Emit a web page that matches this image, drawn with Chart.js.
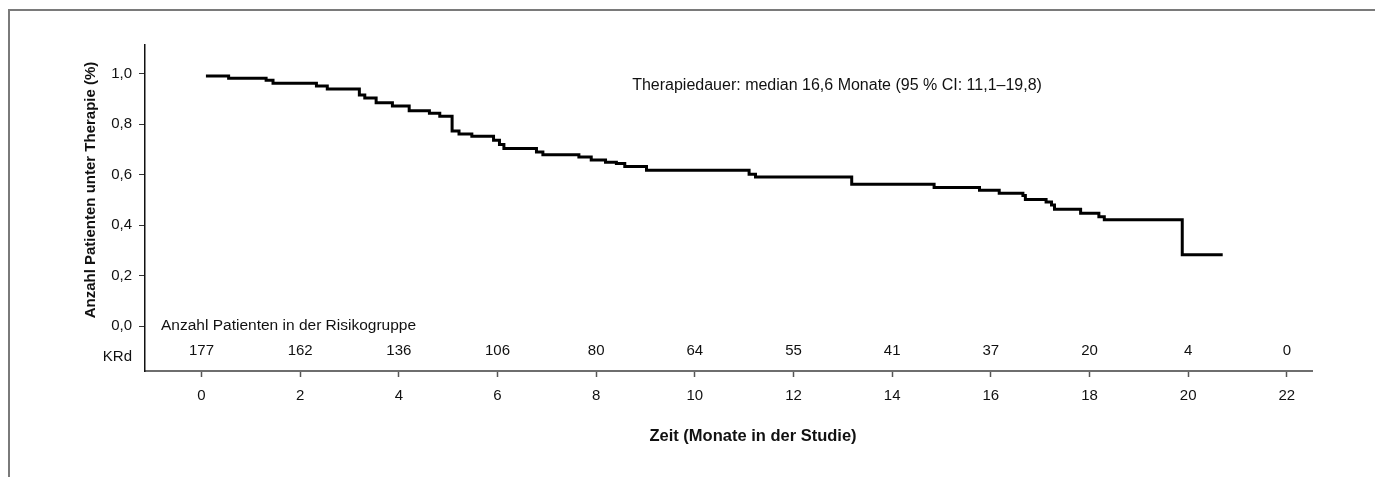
<!DOCTYPE html>
<html lang="de">
<head>
  <meta charset="UTF-8" />
  <title>Therapiedauer KRd</title>
  <script src="https://cdn.jsdelivr.net/npm/chart.js"></script>
  <style>
    html, body {
      margin: 0;
      padding: 0;
      background: #fff;
    }
    body {
      width: 1375px;
      height: 477px;
      position: relative;
      overflow: hidden;
    }
    .frame {
      position: absolute;
      left: 8px;
      top: 9px;
      right: 0;
      bottom: 0;
      border-top: 2px solid #7a7a7a;
      border-left: 2px solid #7a7a7a;
    }
    #kmChart {
      position: absolute;
      left: 0;
      top: 0;
    }
  </style>
</head>
<body>
  <div class="frame"></div>
  <canvas id="kmChart" width="1375" height="477"></canvas>

  <script>
    // Kaplan-Meier Stufen: Zeitpunkt (Monate) und Anteil unter Therapie ab dort
    const months = [0.09, 0.55, 1.31, 1.45, 2.33, 2.55, 3.20, 3.31, 3.54, 3.87,
                    4.21, 4.62, 4.83, 5.08, 5.22, 5.48, 5.92, 6.04, 6.13, 6.79,
                    6.92, 7.65, 7.90, 8.19, 8.41, 8.58, 9.02, 11.10, 11.23, 13.18,
                    14.85, 15.77, 16.17, 16.65, 16.70, 17.12, 17.23, 17.29, 17.82, 18.19,
                    18.30, 19.88, 20.70];
    const onTherapy = [0.990, 0.981, 0.973, 0.962, 0.951, 0.939, 0.915, 0.903, 0.884, 0.871,
                       0.853, 0.843, 0.831, 0.772, 0.761, 0.752, 0.736, 0.719, 0.703, 0.689,
                       0.678, 0.669, 0.658, 0.649, 0.644, 0.632, 0.617, 0.601, 0.590, 0.562,
                       0.549, 0.538, 0.526, 0.517, 0.501, 0.491, 0.479, 0.463, 0.447, 0.433,
                       0.421, 0.282, 0.282];

    const xTicks = [0, 2, 4, 6, 8, 10, 12, 14, 16, 18, 20, 22];
    const yTicks = [0, 0.2, 0.4, 0.6, 0.8, 1.0];
    const atRisk = [177, 162, 136, 106, 80, 64, 55, 41, 37, 20, 4, 0];

    const groupName = 'KRd';
    const riskTitle = 'Anzahl Patienten in der Risikogruppe';
    const medianNote = 'Therapiedauer: median 16,6 Monate (95 % CI: 11,1–19,8)';
    const xTitle = 'Zeit (Monate in der Studie)';
    const yTitle = 'Anzahl Patienten unter Therapie (%)';

    const FONT = '"Liberation Sans", Arial, sans-serif';

    // Texte, die Chart.js nicht selbst setzt (Risikotabelle, Notiz, Achsentitel)
    const textPlugin = {
      id: 'kmTexts',
      afterDraw(chart) {
        const ctx = chart.ctx;
        const x = chart.scales.x;
        const y = chart.scales.y;
        ctx.save();
        ctx.fillStyle = '#111';
        ctx.textBaseline = 'middle';

        ctx.textAlign = 'left';
        ctx.font = '16px ' + FONT;
        ctx.fillText(medianNote, x.getPixelForValue(8.73), y.getPixelForValue(0.954));
        ctx.font = '15.5px ' + FONT;
        ctx.fillText(riskTitle, x.getPixelForValue(-0.82), y.getPixelForValue(0));

        ctx.font = '15px ' + FONT;
        ctx.textAlign = 'center';
        atRisk.forEach((n, i) => {
          ctx.fillText(String(n), x.getPixelForValue(xTicks[i]), y.getPixelForValue(-0.097));
        });

        ctx.textAlign = 'right';
        ctx.fillText(groupName, 132, y.getPixelForValue(-0.122));

        ctx.font = 'bold 16.5px ' + FONT;
        ctx.textAlign = 'center';
        ctx.fillText(xTitle, 753, 436);

        ctx.font = 'bold 15px ' + FONT;
        ctx.translate(91, 190);
        ctx.rotate(-Math.PI / 2);
        ctx.fillText(yTitle, 0, 0);
        ctx.restore();
      }
    };

    new Chart(document.getElementById('kmChart'), {
      type: 'line',
      data: {
        datasets: [{
          label: 'KRd',
          data: months.map((m, i) => ({ x: m, y: onTherapy[i] })),
          stepped: 'before',
          borderColor: '#000',
          borderWidth: 3,
          pointRadius: 0,
          fill: false
        }]
      },
      options: {
        responsive: false,
        devicePixelRatio: 1,
        animation: false,
        layout: { padding: { top: 45, right: 63, bottom: 0, left: 0 } },
        plugins: {
          legend: { display: false },
          tooltip: { enabled: false }
        },
        scales: {
          x: {
            type: 'linear',
            min: -1.145,
            max: 22.51,
            afterBuildTicks: scale => { scale.ticks = xTicks.map(v => ({ value: v })); },
            afterFit: scale => { scale.height = 106; },
            grid: {
              drawOnChartArea: false,
              drawTicks: true,
              tickLength: 6,
              tickColor: '#555',
              tickWidth: 1.5
            },
            border: { display: true, color: '#6e6e6e', width: 2 },
            ticks: {
              color: '#111',
              padding: 10,
              maxRotation: 0,
              font: { family: FONT, size: 15 },
              callback: v => String(v)
            }
          },
          y: {
            min: -0.178,
            max: 1.113,
            afterBuildTicks: scale => { scale.ticks = yTicks.map(v => ({ value: v })); },
            afterFit: scale => { scale.width = 145; },
            grid: {
              drawOnChartArea: false,
              drawTicks: true,
              tickLength: 6,
              tickColor: '#333',
              tickWidth: 1
            },
            border: { display: true, color: '#111', width: 1.5 },
            ticks: {
              color: '#111',
              padding: 7,
              font: { family: FONT, size: 15 },
              callback: v => v.toFixed(1).replace('.', ',')
            }
          }
        }
      },
      plugins: [textPlugin]
    });
  </script>
</body>
</html>
